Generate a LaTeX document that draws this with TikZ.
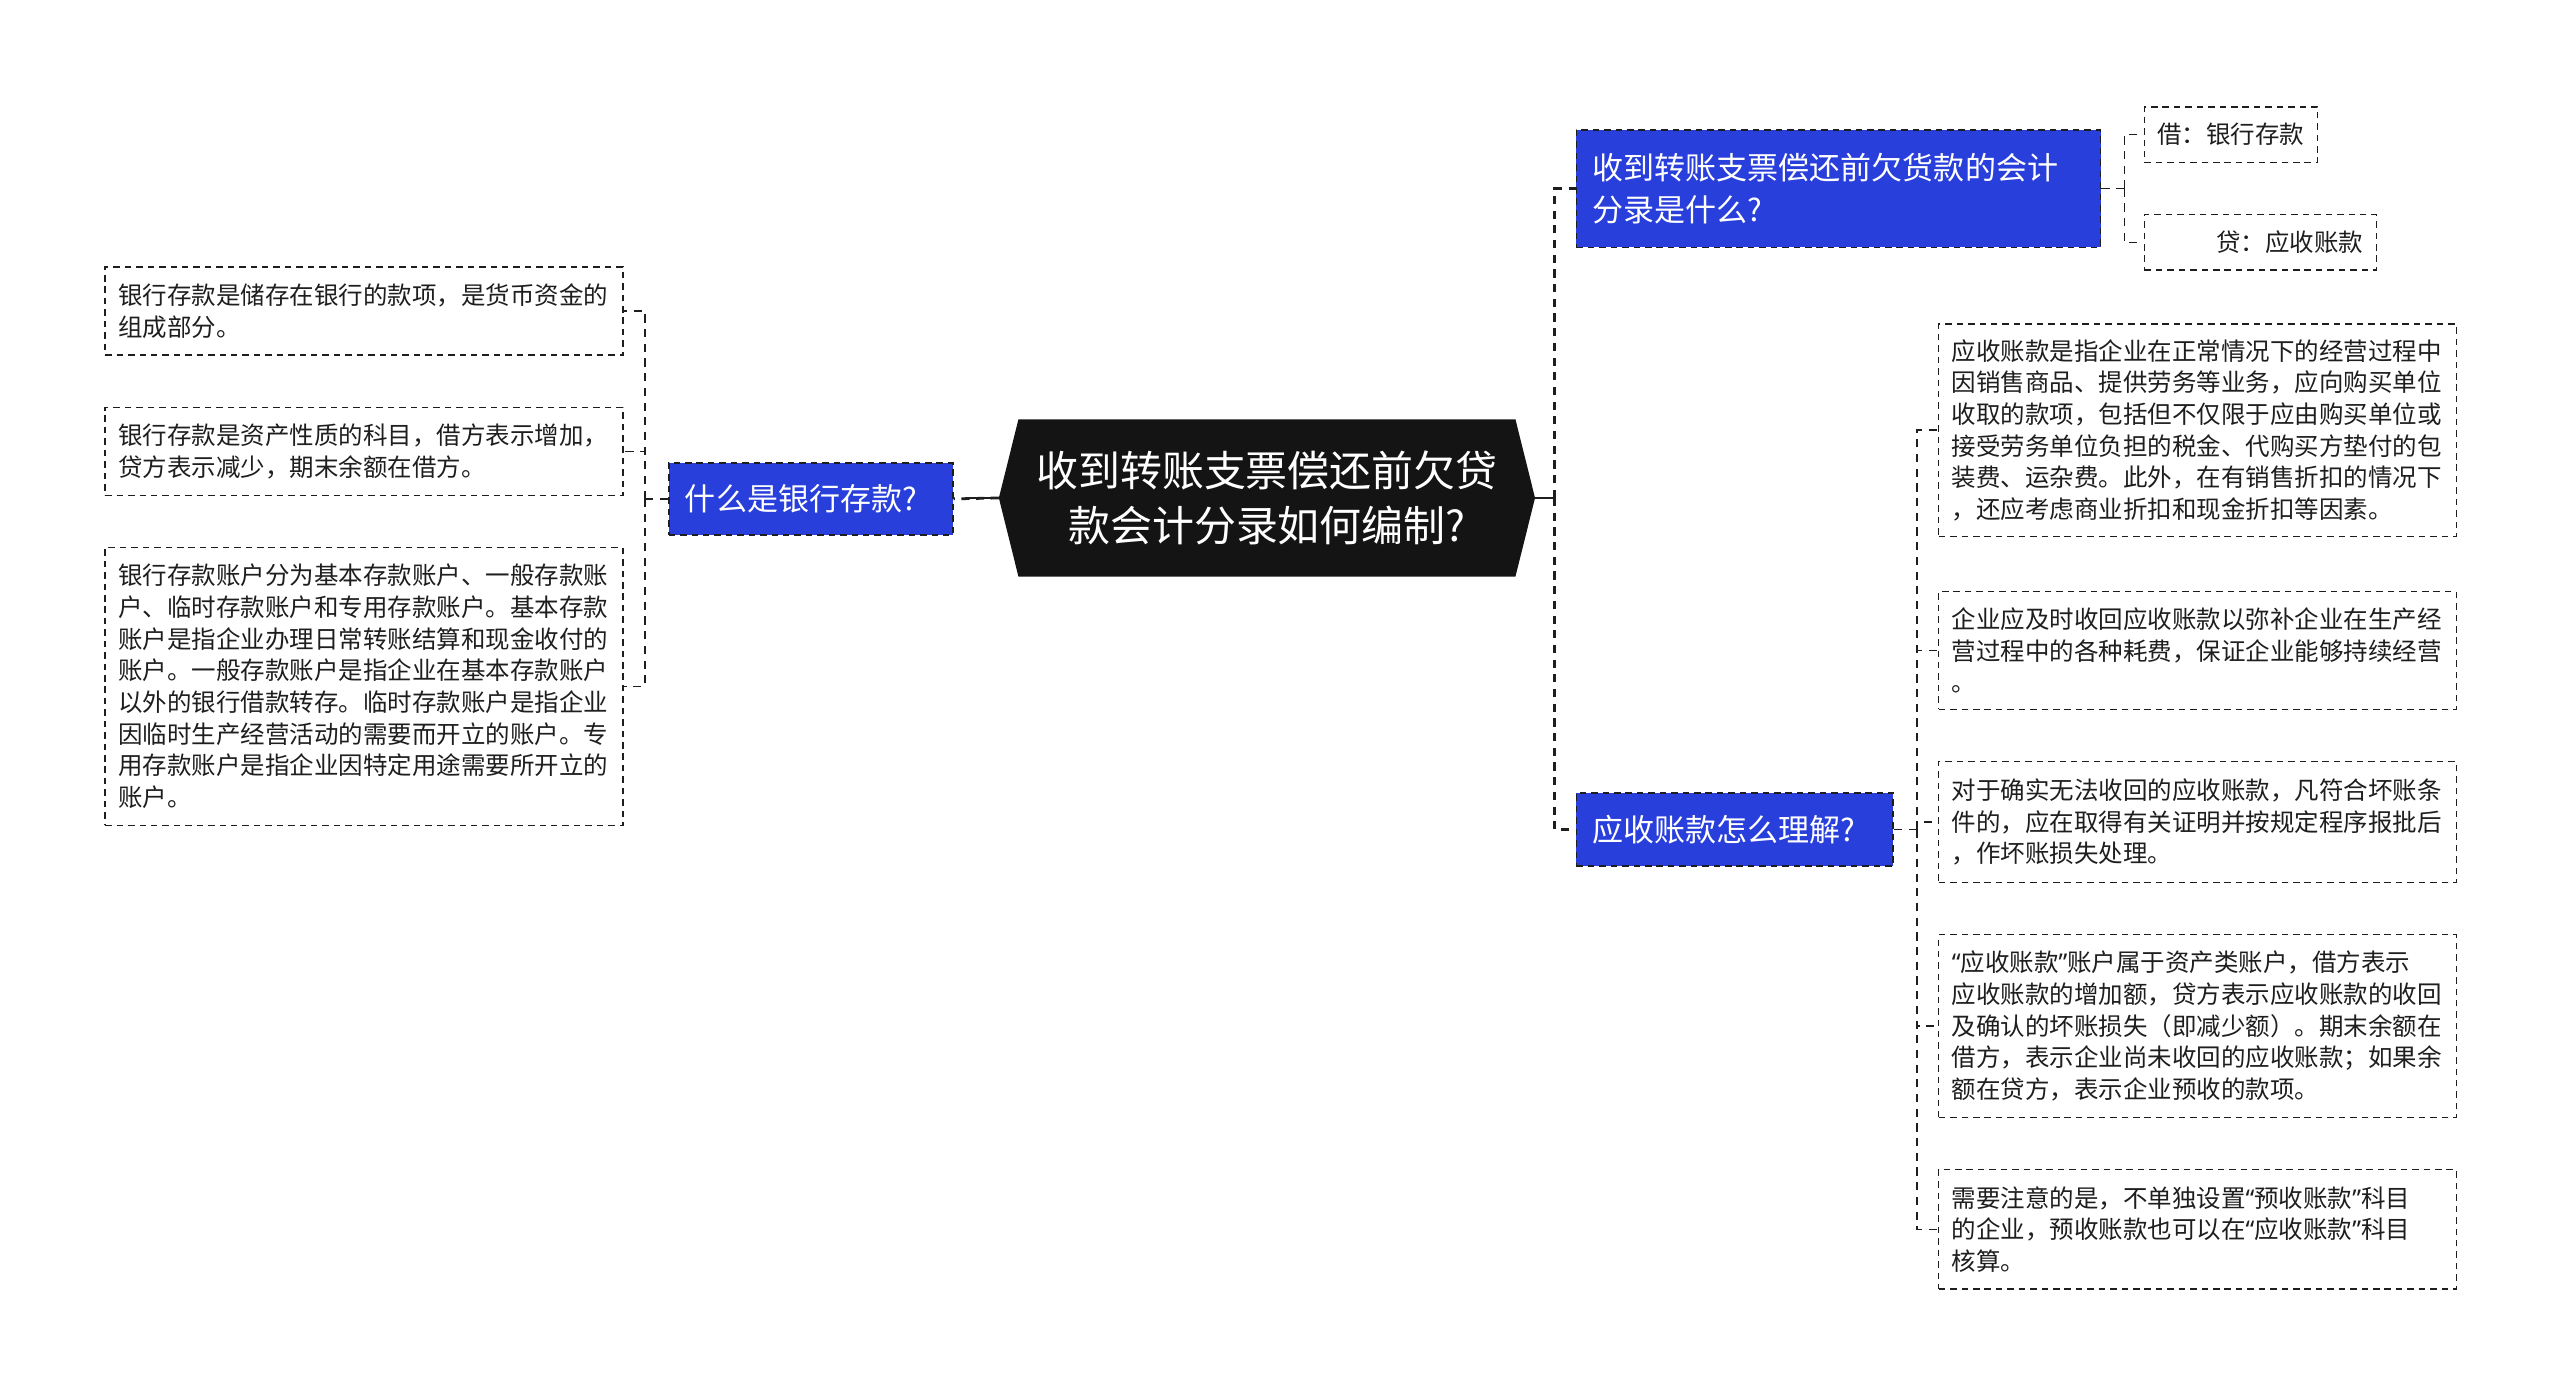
\documentclass[tikz,border=0pt]{standalone}
\usepackage{fontspec}
\setmainfont{Noto Sans CJK SC}
\newfontfamily\latinq{Noto Sans}
\newcommand{\myLQ}{{\latinq “}}
\newcommand{\myRQ}{{\latinq ”}}
\usetikzlibrary{backgrounds}
\definecolor{bluebox}{RGB}{41,63,219}
\definecolor{ink}{RGB}{30,30,30}
\begin{document}
\begin{tikzpicture}[x=1pt,y=-1pt,
  leafbox/.style={draw=ink, dash pattern=on 4pt off 3pt, line width=0.9pt, anchor=north west,
    inner xsep=8pt, inner ysep=0pt, align=left, text width=301pt,
    font=\fontsize{15}{19.4}\selectfont, text=ink},
  smallbox/.style={draw=ink, dash pattern=on 4pt off 3pt, line width=0.9pt, anchor=north west,
    inner xsep=8pt, inner ysep=0pt, font=\fontsize{15}{19.4}\selectfont, text=ink},
  branchbox/.style={fill=bluebox, draw=ink, dash pattern=on 4pt off 3pt, line width=1.1pt,
    text=white, anchor=north west, inner xsep=10pt, inner ysep=0pt, align=left,
    font=\fontsize{19}{26}\selectfont},
  trunk/.style={draw=ink, line width=1.7pt, dash pattern=on 5pt off 4pt},
  twig/.style={draw=ink, line width=0.9pt, dash pattern=on 5pt off 4pt},
  solidline/.style={draw=ink, line width=1.7pt}
]
\useasboundingbox (0,0) rectangle (1568,854);

% root
\node[text=white, align=center, text width=300pt, minimum width=328pt, minimum height=96pt,
      inner sep=0pt, font=\fontsize{25.7}{34}\selectfont] (root) at (776,305)
  {收到转账支票偿还前欠贷\\款会计分录如何编制?};
\begin{scope}[on background layer]
\fill[white] (0,0) rectangle (1568,854);
\fill[black!92] (root.west) -- ([xshift=12pt]root.north west) -- ([xshift=-12pt]root.north east)
  -- (root.east) -- ([xshift=-12pt]root.south east) -- ([xshift=12pt]root.south west) -- cycle;
\end{scope}

% left branch
\node[branchbox, text width=154pt, minimum height=44pt] (Lb) at (409,283) {什么是银行存款?};
\node[leafbox, minimum height=54pt] (L1) at (64,163)
  {银行存款是储存在银行的款项，是货币资金的\\组成部分。};
\node[leafbox, minimum height=54pt] (L2) at (64,249)
  {银行存款是资产性质的科目，借方表示增加，\\贷方表示减少，期末余额在借方。};
\node[leafbox, minimum height=170pt] (L3) at (64,335)
  {银行存款账户分为基本存款账户、一般存款账\\户、临时存款账户和专用存款账户。基本存款\\账户是指企业办理日常转账结算和现金收付的\\账户。一般存款账户是指企业在基本存款账户\\以外的银行借款转存。临时存款账户是指企业\\因临时生产经营活动的需要而开立的账户。专\\用存款账户是指企业因特定用途需要所开立的\\账户。};

% right branches
\node[branchbox, text width=301pt, minimum height=72pt] (R1) at (965,79)
  {收到转账支票偿还前欠货款的会计\\分录是什么?};
\node[branchbox, text width=174pt, minimum height=45pt] (R2) at (965,485) {应收账款怎么理解?};

\node[smallbox, minimum height=34pt, minimum width=106pt] (D1) at (1313,65) {借：银行存款};
\node[smallbox, minimum height=34pt, text width=126pt, align=right] (D2) at (1313,131) {贷：应收账款};

\node[leafbox, minimum height=130pt] (RL1) at (1187,198)
  {应收账款是指企业在正常情况下的经营过程中\\因销售商品、提供劳务等业务，应向购买单位\\收取的款项，包括但不仅限于应由购买单位或\\接受劳务单位负担的税金、代购买方垫付的包\\装费、运杂费。此外，在有销售折扣的情况下\\，还应考虑商业折扣和现金折扣等因素。};
\node[leafbox, minimum height=72pt] (RL2) at (1187,362)
  {企业应及时收回应收账款以弥补企业在生产经\\营过程中的各种耗费，保证企业能够持续经营\\。};
\node[leafbox, minimum height=74pt] (RL3) at (1187,466)
  {对于确实无法收回的应收账款，凡符合坏账条\\件的，应在取得有关证明并按规定程序报批后\\，作坏账损失处理。};
\node[leafbox, minimum height=112pt] (RL4) at (1187,572)
  {\myLQ 应收账款\myRQ 账户属于资产类账户，借方表示\\应收账款的增加额，贷方表示应收账款的收回\\及确认的坏账损失（即减少额）。期末余额在\\借方，表示企业尚未收回的应收账款；如果余\\额在贷方，表示企业预收的款项。};
\node[leafbox, minimum height=73pt] (RL5) at (1187,716)
  {需要注意的是，不单独设置\myLQ 预收账款\myRQ 科目\\的企业，预收账款也可以在\myLQ 应收账款\myRQ 科目\\核算。};

% connectors root - branches
\draw[trunk] (root.west) -- (Lb.east);
\draw[solidline] (root.west) -- ++(-19,0);
\draw[solidline] (root.east) -- ++(12,0) coordinate (rj);
\draw[trunk] (rj) |- (R1.west);
\draw[trunk] (rj) |- (R2.west);

% left twigs
\draw[twig] (Lb.west) -- ++(-14,0) coordinate (lj);
\draw[twig] (lj) |- (L1.east);
\draw[twig] (lj) |- (L2.east);
\draw[twig] (lj) |- (L3.east);

% R1 twigs
\draw[twig] (R1.east) -- ++(14,0) coordinate (r1j);
\draw[twig] (r1j) |- (D1.west);
\draw[twig] (r1j) |- (D2.west);

% R2 twigs
\draw[twig] (R2.east) -- ++(14,0) coordinate (r2j);
\draw[twig] (r2j) |- (RL1.west);
\draw[twig] (r2j) |- (RL2.west);
\draw[twig] (r2j) |- (RL3.west);
\draw[twig] (r2j) |- (RL4.west);
\draw[twig] (r2j) |- (RL5.west);
\end{tikzpicture}
\end{document}
